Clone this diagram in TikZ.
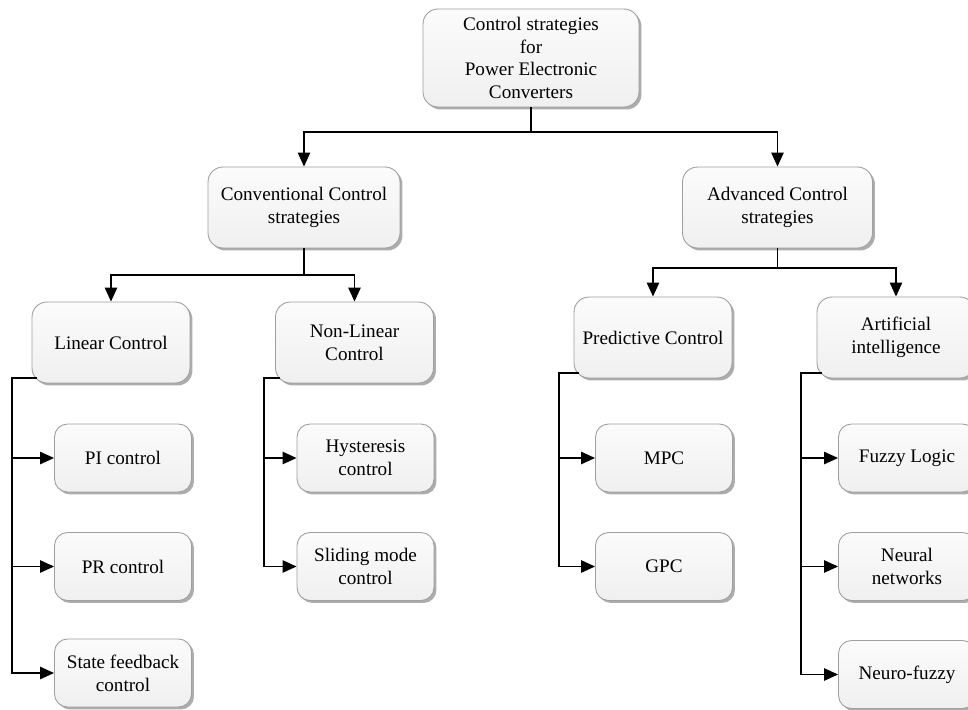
\documentclass[tikz,border=0pt]{standalone}
\usepackage{fontspec}
\setmainfont{Liberation Serif}
\usetikzlibrary{arrows.meta,shadows}

\tikzset{
	box/.style={draw=gray!75, line width=0.5pt, rounded corners=0.3cm,
		top color=gray!3, bottom color=gray!12,
		drop shadow={shadow xshift=0.05cm, shadow yshift=-0.05cm, fill=gray!80, opacity=0.8},
		align=center, inner sep=0pt, font=\fontsize{10.9}{13}\selectfont},
	bigbox/.style={box, minimum width=3.16cm, minimum height=1.62cm},
	smallbox/.style={box, minimum width=2.74cm, minimum height=1.36cm, rounded corners=0.26cm},
	link/.style={line width=1.1pt, -{Triangle[length=8pt,width=7pt]}},
}

\begin{document}
\begin{tikzpicture}[x=0.02cm, y=-0.02cm]
	\useasboundingbox (0, 0) rectangle (968, 710);

	\node[box, minimum width=4.32cm, minimum height=1.96cm] (root) at (531, 58) {Control strategies\\for\\Power Electronic\\Converters};
	\node[box, minimum width=3.84cm, minimum height=1.62cm] (conv) at (304, 207.5) {Conventional Control\\strategies};
	\node[box, minimum width=3.8cm, minimum height=1.62cm] (adv) at (777.5, 207.5) {Advanced Control\\strategies};

	\node[bigbox] (lin) at (111, 342.5) {Linear Control};
	\node[bigbox] (nonlin) at (354.5, 342.5) {Non-Linear\\Control};
	\node[bigbox] (pred) at (653, 337.5) {Predictive Control};
	\node[bigbox] (ai) at (896, 337.5) {Artificial\\intelligence};

	\node[smallbox] (pi) at (123, 458) {PI control};
	\node[smallbox] (pr) at (123, 566.5) {PR control};
	\node[smallbox] (sf) at (123, 673) {State feedback\\control};

	\node[smallbox] (hys) at (365.5, 458) {Hysteresis\\control};
	\node[smallbox] (slm) at (365.5, 566.5) {Sliding mode\\control};

	\node[smallbox] (mpc) at (664, 458) {MPC};
	\node[smallbox] (gpc) at (664, 566.5) {GPC};

	\node[smallbox] (fuz) at (907, 458) {Fuzzy Logic};
	\node[smallbox] (nn) at (907, 566.5) {Neural\\networks};
	\node[smallbox] (nf) at (907, 674.5) {Neuro-fuzzy};

	% Level 1
	\draw[link] (root.south) -- ++(0, 25) -| (conv.north);
	\draw[link] (root.south) -- ++(0, 25) -| (adv.north);

	% Level 2
	\draw[link] (conv.south) -- ++(0, 27) -| (lin.north);
	\draw[link] (conv.south) -- ++(0, 27) -| (nonlin.north);
	\draw[link] (adv.south) -- ++(0, 20) -| (pred.north);
	\draw[link] (adv.south) -- ++(0, 20) -| (ai.north);

	% Branches
	\draw[link] ([shift={(5, -5)}]lin.south west) -- ++(-25, 0) |- (pi.west);
	\draw[link] ([shift={(5, -5)}]lin.south west) -- ++(-25, 0) |- (pr.west);
	\draw[link] ([shift={(5, -5)}]lin.south west) -- ++(-25, 0) |- (sf.west);

	\draw[link] ([shift={(5, -5)}]nonlin.south west) -- ++(-16, 0) |- (hys.west);
	\draw[link] ([shift={(5, -5)}]nonlin.south west) -- ++(-16, 0) |- (slm.west);

	\draw[link] ([shift={(5, -5)}]pred.south west) -- ++(-20, 0) |- (mpc.west);
	\draw[link] ([shift={(5, -5)}]pred.south west) -- ++(-20, 0) |- (gpc.west);

	\draw[link] ([shift={(5, -5)}]ai.south west) -- ++(-21, 0) |- (fuz.west);
	\draw[link] ([shift={(5, -5)}]ai.south west) -- ++(-21, 0) |- (nn.west);
	\draw[link] ([shift={(5, -5)}]ai.south west) -- ++(-21, 0) |- (nf.west);
\end{tikzpicture}
\end{document}
